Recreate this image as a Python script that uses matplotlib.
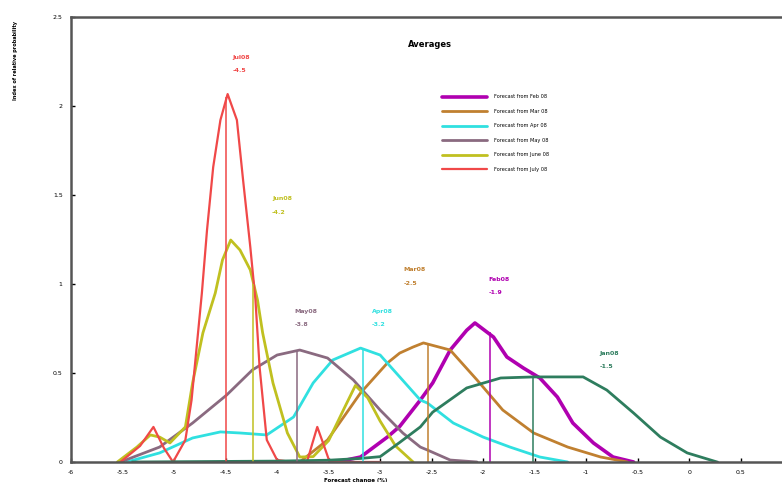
import matplotlib
matplotlib.use("Agg")
import matplotlib.pyplot as plt

# ---- data ----
jul_x = [-5.52, -5.33, -5.20, -5.10, -5.01, -4.89, -4.83, -4.73, -4.68, -4.62, -4.55, -4.48,
         -4.39, -4.33, -4.26, -4.21, -4.17, -4.10, -4.00, -3.85, -3.71, -3.66, -3.61, -3.55, -3.49, -3.0]
jul_y = [0.0, 0.09, 0.197, 0.08, 0.0, 0.124, 0.348, 0.949, 1.303, 1.657, 1.921, 2.067,
         1.921, 1.584, 1.208, 0.910, 0.534, 0.124, 0.011, 0.0, 0.0, 0.10, 0.197, 0.10, 0.0, 0.0]

jun_x = [-5.55, -5.36, -5.23, -5.14, -5.04, -4.89, -4.82, -4.72, -4.60, -4.53, -4.45, -4.36,
         -4.26, -4.19, -4.14, -4.04, -3.90, -3.78, -3.65, -3.50, -3.35, -3.24, -3.12, -3.00, -2.85, -2.68]
jun_y = [0.0, 0.084, 0.152, 0.140, 0.107, 0.197, 0.444, 0.725, 0.949, 1.135, 1.247, 1.191,
         1.079, 0.910, 0.725, 0.444, 0.163, 0.028, 0.03, 0.12, 0.30, 0.43, 0.36, 0.23, 0.09, 0.0]

may_x = [-5.52, -5.14, -4.82, -4.49, -4.24, -4.00, -3.78, -3.51, -3.26, -3.00, -2.78, -2.61,
         -2.54, -2.32, -2.06]
may_y = [0.0, 0.084, 0.219, 0.376, 0.517, 0.601, 0.629, 0.584, 0.461, 0.292, 0.163, 0.084,
         0.067, 0.011, 0.0]

apr_x = [-5.46, -5.14, -4.82, -4.55, -4.36, -4.10, -3.84, -3.65, -3.46, -3.19, -3.00, -2.81,
         -2.61, -2.54, -2.29, -2.00, -1.74, -1.45, -1.18]
apr_y = [0.0, 0.051, 0.135, 0.169, 0.163, 0.152, 0.253, 0.444, 0.573, 0.640, 0.601, 0.478,
         0.348, 0.331, 0.219, 0.140, 0.084, 0.028, 0.0]

mar_x = [-3.78, -3.51, -3.19, -2.93, -2.81, -2.68, -2.58, -2.32, -2.06, -1.81, -1.51, -1.18,
         -0.86, -0.60]
mar_y = [0.0, 0.124, 0.388, 0.556, 0.612, 0.646, 0.669, 0.629, 0.461, 0.292, 0.163, 0.084,
         0.028, 0.0]

feb_x = [-3.42, -3.19, -2.93, -2.81, -2.61, -2.49, -2.32, -2.16, -2.08, -1.90, -1.77, -1.61,
         -1.45, -1.28, -1.13, -0.93, -0.74, -0.54]
feb_y = [0.0, 0.028, 0.140, 0.20, 0.348, 0.444, 0.629, 0.74, 0.781, 0.702, 0.590, 0.528,
         0.472, 0.365, 0.219, 0.107, 0.028, 0.0]

jan_x = [-5.40, -4.00, -3.50, -3.19, -3.00, -2.81, -2.61, -2.49, -2.16, -1.83, -1.51, -1.03,
         -0.80, -0.54, -0.28, -0.02, 0.27]
jan_y = [0.0, 0.005, 0.01, 0.02, 0.03, 0.11, 0.197, 0.28, 0.416, 0.472, 0.478, 0.478,
         0.404, 0.275, 0.140, 0.051, 0.0]

# averages (vertical lines) and their heights
names = ["Feb08", "Mar08", "Apr08", "May08", "Jun08", "Jul08", "Jan08"]
means = [-1.93, -2.54, -3.17, -3.81, -4.23, -4.50, -1.52]
mean_heights = [0.73, 0.66, 0.64, 0.63, 1.0, 2.05, 0.478]
mean_labels = ["-1.9", "-2.5", "-3.2", "-3.8", "-4.2", "-4.5", "-1.5"]
label_x = [-1.95, -2.77, -3.08, -3.83, -4.05, -4.43, -0.87]
label_y = [1.028, 1.079, 0.848, 0.848, 1.478, 2.275, 0.612]

legend_labels = ["Forecast from Feb 08", "Forecast from Mar 08", "Forecast from Apr 08",
                 "Forecast from May 08", "Forecast from June 08", "Forecast from July 08"]

colors = {"Feb08": "#b000b0", "Mar08": "#c08030", "Apr08": "#30e0e0", "May08": "#8a6a80",
          "Jun08": "#c0c020", "Jul08": "#f04848", "Jan08": "#2e7d5e"}

xticks = [-6, -5.5, -5, -4.5, -4, -3.5, -3, -2.5, -2, -1.5, -1, -0.5, 0, 0.5]
xticklabels = ["-6", "-5.5", "-5", "-4.5", "-4", "-3.5", "-3", "-2.5", "-2", "-1.5", "-1", "-0.5", "0", "0.5"]
yticks = [0, 0.5, 1, 1.5, 2, 2.5]
yticklabels = ["0", "0.5", "1", "1.5", "2", "2.5"]

fig = plt.figure(figsize=(7.82, 4.82), dpi=100)
ax = fig.add_axes([71 / 782, 20 / 482, 711 / 782, 445 / 482])

series = [("Feb08", feb_x, feb_y, 2.6), ("Mar08", mar_x, mar_y, 2.0), ("Apr08", apr_x, apr_y, 2.0),
          ("May08", may_x, may_y, 2.0), ("Jun08", jun_x, jun_y, 2.0), ("Jul08", jul_x, jul_y, 1.6)]
for (key, xs, ys, lw), lab in zip(series, legend_labels):
    ax.plot(xs, ys, color=colors[key], lw=lw, label=lab, solid_capstyle="round",
            solid_joinstyle="round")
ax.plot(jan_x, jan_y, color=colors["Jan08"], lw=2.0, solid_joinstyle="round")

for n, m, h, ml, lx, ly in zip(names, means, mean_heights, mean_labels, label_x, label_y):
    ax.vlines(m, 0, h, color=colors[n], lw=1.1)
    ax.text(lx, ly, n, color=colors[n], fontsize=4.5, fontweight="bold", ha="left", va="center")
    ax.text(lx, ly - 0.075, ml, color=colors[n], fontsize=4.5, fontweight="bold", ha="left", va="center")

ax.set_xlim(-6, 0.9)
ax.set_ylim(0, 2.5)
ax.set_xticks(xticks)
ax.set_xticklabels(xticklabels)
ax.set_yticks(yticks)
ax.set_yticklabels(yticklabels)
ax.tick_params(direction="in", labelsize=4.5, length=3, width=1, pad=6)
for s in ["left", "bottom", "top"]:
    ax.spines[s].set_linewidth(1.8)
    ax.spines[s].set_color("#555555")
ax.spines["right"].set_visible(False)

ax.text(0.505, 0.939, "Averages", transform=ax.transAxes, fontsize=6, fontweight="bold",
        ha="center", va="center")
fig.text(0.02, 0.875, "Index of relative probability", rotation=90, fontsize=3.6,
         fontweight="bold", ha="center", va="center")
ax.set_xlabel("Forecast change (%)", fontsize=4, fontweight="bold", labelpad=2)
ax.xaxis.set_label_coords(0.40, -0.035)

leg = ax.legend(loc="upper left", bbox_to_anchor=(0.515, 0.836), frameon=False, fontsize=3.6,
                handlelength=9, labelspacing=1.9, handletextpad=1.4)

fig.savefig("out.png", dpi=100)
